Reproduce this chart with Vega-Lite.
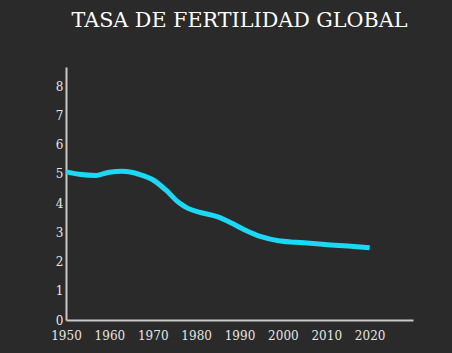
{
  "$schema": "https://vega.github.io/schema/vega-lite/v6.json",
  "width": 347,
  "height": 253,
  "autosize": "none",
  "padding": {"left": 66, "top": 67, "right": 39, "bottom": 33},
  "background": "#2a2a2a",
  "title": {
    "text": "TASA DE FERTILIDAD GLOBAL",
    "font": "DejaVu Serif",
    "fontSize": 20.7,
    "fontWeight": "normal",
    "color": "#ffffff",
    "anchor": "middle",
    "baseline": "alphabetic",
    "offset": 19
  },
  "data": {
    "values": [
      {"year": 1950, "rate": 5.07},
      {"year": 1953, "rate": 4.99},
      {"year": 1957, "rate": 4.95},
      {"year": 1960, "rate": 5.06},
      {"year": 1963, "rate": 5.09},
      {"year": 1967, "rate": 4.98},
      {"year": 1970, "rate": 4.8},
      {"year": 1973, "rate": 4.45},
      {"year": 1976, "rate": 4.02},
      {"year": 1978, "rate": 3.83},
      {"year": 1981, "rate": 3.68},
      {"year": 1985, "rate": 3.53},
      {"year": 1988, "rate": 3.33},
      {"year": 1991, "rate": 3.1},
      {"year": 1995, "rate": 2.85},
      {"year": 1999, "rate": 2.71},
      {"year": 2003, "rate": 2.66},
      {"year": 2007, "rate": 2.62},
      {"year": 2011, "rate": 2.57},
      {"year": 2015, "rate": 2.53},
      {"year": 2020, "rate": 2.47}
    ]
  },
  "mark": {"type": "line", "color": "#1bd8f5", "strokeWidth": 5, "interpolate": "monotone", "strokeCap": "butt"},
  "encoding": {
    "x": {
      "field": "year",
      "type": "quantitative",
      "scale": {"domain": [1950, 2030], "nice": false, "zero": false},
      "axis": {"values": [1950, 1960, 1970, 1980, 1990, 2000, 2010, 2020], "format": "d", "title": null, "labelPadding": 10, "labelOverlap": false, "labelBound": false, "labelFlush": false}
    },
    "y": {
      "field": "rate",
      "type": "quantitative",
      "scale": {"domain": [0, 8.66], "nice": false},
      "axis": {"values": [0, 1, 2, 3, 4, 5, 6, 7, 8], "title": null, "labelPadding": 3, "labelOverlap": false}
    }
  },
  "config": {
    "view": {"stroke": null},
    "axis": {
      "domainColor": "#c8c8c8",
      "domainWidth": 2,
      "ticks": false,
      "grid": false,
      "labelColor": "#e6e6e6",
      "labelFont": "DejaVu Serif",
      "labelFontSize": 12
    }
  }
}
